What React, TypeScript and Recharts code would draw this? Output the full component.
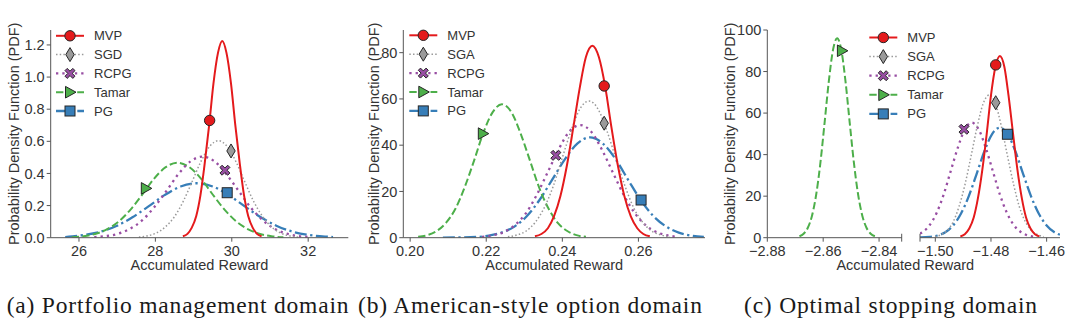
import React from 'react'
import { ComposedChart, Line, Scatter, XAxis, YAxis, ReferenceLine } from 'recharts'

type Pt = [number, number]

// (a) Portfolio management domain
const aMVP: Pt[] = [[28.72, 0.009], [28.84, 0.024], [28.95, 0.061], [29.07, 0.135], [29.18, 0.265], [29.29, 0.46], [29.41, 0.706], [29.52, 0.959], [29.64, 1.152], [29.75, 1.225], [29.86, 1.152], [29.98, 0.959], [30.09, 0.706], [30.21, 0.46], [30.32, 0.265], [30.43, 0.135], [30.55, 0.061], [30.66, 0.024], [30.78, 0.009]]
const aSGD: Pt[] = [[27.57, 0.004], [27.8, 0.012], [28.03, 0.03], [28.26, 0.067], [28.5, 0.131], [28.73, 0.227], [28.96, 0.348], [29.19, 0.473], [29.42, 0.568], [29.65, 0.604], [29.88, 0.568], [30.11, 0.473], [30.34, 0.348], [30.57, 0.227], [30.81, 0.131], [31.04, 0.067], [31.27, 0.03], [31.5, 0.012], [31.73, 0.004]]
const aRCPG: Pt[] = [[26.4, 0.004], [26.71, 0.01], [27.03, 0.025], [27.34, 0.056], [27.66, 0.109], [27.97, 0.19], [28.29, 0.291], [28.6, 0.395], [28.92, 0.475], [29.23, 0.505], [29.55, 0.475], [29.86, 0.395], [30.18, 0.291], [30.49, 0.19], [30.81, 0.109], [31.12, 0.056], [31.44, 0.025], [31.75, 0.01], [32.07, 0.004]]
const aTamar: Pt[] = [[25.81, 0.003], [26.12, 0.009], [26.42, 0.023], [26.73, 0.052], [27.04, 0.101], [27.35, 0.175], [27.66, 0.269], [27.96, 0.366], [28.27, 0.439], [28.58, 0.467], [28.89, 0.439], [29.2, 0.366], [29.5, 0.269], [29.81, 0.175], [30.12, 0.101], [30.43, 0.052], [30.74, 0.023], [31.04, 0.009], [31.35, 0.003]]
const aPG: Pt[] = [[25.64, 0.004], [26.14, 0.017], [26.56, 0.037], [26.98, 0.073], [27.4, 0.127], [27.82, 0.195], [28.24, 0.265], [28.66, 0.319], [29.08, 0.339], [29.5, 0.319], [29.92, 0.265], [30.34, 0.195], [30.76, 0.127], [31.18, 0.073], [31.6, 0.037], [32.02, 0.017], [32.44, 0.007], [32.65, 0.004]]
const aMarkers: Pt[] = [[29.42, 0.73], [29.98, 0.54], [29.82, 0.42], [27.75, 0.307], [29.88, 0.28]]

// (b) American-style option domain
const bMVP: Pt[] = [[0.2328, 0.6], [0.2345, 1.6], [0.2362, 4.1], [0.2378, 9.2], [0.2395, 18.0], [0.2412, 31.2], [0.2429, 47.8], [0.2446, 65.0], [0.2462, 78.1], [0.2479, 83.0], [0.2496, 78.1], [0.2513, 65.0], [0.2529, 47.8], [0.2546, 31.2], [0.2563, 18.0], [0.258, 9.2], [0.2597, 4.1], [0.2613, 1.6], [0.263, 0.6]]
const bSGA: Pt[] = [[0.2257, 0.4], [0.2281, 1.2], [0.2305, 2.9], [0.2328, 6.5], [0.2352, 12.8], [0.2376, 22.2], [0.2399, 34.1], [0.2423, 46.3], [0.2446, 55.6], [0.247, 59.1], [0.2494, 55.6], [0.2517, 46.3], [0.2541, 34.1], [0.2565, 22.2], [0.2588, 12.8], [0.2612, 6.5], [0.2635, 2.9], [0.2659, 1.2], [0.2683, 0.4]]
const bRCPG: Pt[] = [[0.2189, 0.3], [0.2217, 1.0], [0.2246, 2.4], [0.2275, 5.4], [0.2304, 10.5], [0.2332, 18.3], [0.2361, 28.1], [0.239, 38.1], [0.2418, 45.8], [0.2447, 48.7], [0.2476, 45.8], [0.2504, 38.1], [0.2533, 28.1], [0.2562, 18.3], [0.2591, 10.5], [0.2619, 5.4], [0.2648, 2.4], [0.2677, 1.0], [0.2705, 0.3]]
const bTamar: Pt[] = [[0.2021, 0.4], [0.2045, 1.1], [0.207, 2.9], [0.2094, 6.4], [0.2119, 12.5], [0.2143, 21.7], [0.2168, 33.3], [0.2192, 45.2], [0.2217, 54.3], [0.2241, 57.7], [0.2266, 54.3], [0.229, 45.2], [0.2315, 33.3], [0.2339, 21.7], [0.2364, 12.5], [0.2388, 6.4], [0.2413, 2.9], [0.2437, 1.1], [0.2462, 0.4]]
const bPG: Pt[] = [[0.2086, 0.05], [0.213, 0.1], [0.2174, 0.3], [0.2207, 0.9], [0.224, 2.2], [0.2274, 4.8], [0.2307, 9.4], [0.234, 16.3], [0.2373, 25.0], [0.2407, 34.0], [0.244, 40.8], [0.2473, 43.4], [0.2506, 40.8], [0.254, 34.0], [0.2573, 25.0], [0.2606, 16.3], [0.2639, 9.4], [0.2673, 4.8], [0.2706, 2.2], [0.2739, 0.9], [0.2772, 0.3]]
const bMarkers: Pt[] = [[0.251, 65.6], [0.251, 49.5], [0.2383, 35.6], [0.2191, 45.0], [0.2607, 16.3]]

// (c) Optimal stopping domain, broken x axis
const cTamar: Pt[] = [[-2.8685, 0.7], [-2.867, 1.9], [-2.8655, 4.8], [-2.864, 10.6], [-2.8625, 20.8], [-2.861, 36.0], [-2.8595, 55.3], [-2.858, 75.1], [-2.8565, 90.3], [-2.855, 96.0], [-2.8535, 90.3], [-2.852, 75.1], [-2.8505, 55.3], [-2.849, 36.0], [-2.8475, 20.8], [-2.846, 10.6], [-2.8445, 4.8], [-2.843, 1.9], [-2.8415, 0.7]]
const cMVP: Pt[] = [[-1.491, 0.6], [-1.4894, 1.7], [-1.4878, 4.4], [-1.4862, 9.7], [-1.4847, 18.9], [-1.4831, 32.8], [-1.4815, 50.4], [-1.48, 68.5], [-1.4784, 82.3], [-1.4768, 87.5], [-1.4752, 82.3], [-1.4737, 68.5], [-1.4721, 50.4], [-1.4705, 32.8], [-1.4689, 18.9], [-1.4674, 9.7], [-1.4658, 4.4], [-1.4642, 1.7], [-1.4626, 0.6]]
const cSGA: Pt[] = [[-1.5001, 0.5], [-1.498, 1.4], [-1.4958, 3.4], [-1.4936, 7.6], [-1.4915, 14.9], [-1.4893, 25.8], [-1.4871, 39.6], [-1.4849, 53.8], [-1.4828, 64.6], [-1.4806, 68.7], [-1.4784, 64.6], [-1.4763, 53.8], [-1.4741, 39.6], [-1.4719, 25.8], [-1.4698, 14.9], [-1.4676, 7.6], [-1.4654, 3.4], [-1.4632, 1.4], [-1.4611, 0.5]]
const cRCPG: Pt[] = [[-1.5055, 2.0], [-1.5045, 2.75], [-1.502, 6.1], [-1.4995, 12.0], [-1.497, 20.8], [-1.4945, 31.9], [-1.4919, 43.4], [-1.4894, 52.1], [-1.4869, 55.4], [-1.4844, 52.1], [-1.4819, 43.4], [-1.4793, 31.9], [-1.4768, 20.8], [-1.4743, 12.0], [-1.4718, 6.1], [-1.4693, 2.75], [-1.4667, 1.1], [-1.4642, 0.4]]
const cPG: Pt[] = [[-1.5055, 0.1], [-1.502, 0.4], [-1.4992, 1.05], [-1.4964, 2.6], [-1.4936, 5.9], [-1.4908, 11.5], [-1.488, 19.9], [-1.4852, 30.5], [-1.4824, 41.5], [-1.4796, 49.9], [-1.4768, 53.0], [-1.474, 49.9], [-1.4712, 41.5], [-1.4684, 30.5], [-1.4656, 19.9], [-1.4628, 11.5], [-1.46, 5.9], [-1.4572, 2.6], [-1.4552, 1.4]]
const cMarkers: Pt[] = [[-1.4783, 83.2], [-1.4783, 65.0], [-1.4897, 52.2], [-2.8533, 90.0], [-1.4741, 49.8]]

const labelsA = ['MVP', 'SGD', 'RCPG', 'Tamar', 'PG']
const labelsBC = ['MVP', 'SGA', 'RCPG', 'Tamar', 'PG']

const INK = '#333'
const AXIS = '#555'
const EDGE = '#262626'

// one entry per method, same order as the legend
const STYLES = [
  { kind: 'circle', color: '#e41a1c', width: 2, dash: undefined as string | undefined },
  { kind: 'diamond', color: '#9a9a9a', width: 1.5, dash: '1.5 2.2' },
  { kind: 'x', color: '#984ea3', width: 2.3, dash: '2.3 4' },
  { kind: 'tri', color: '#4daf4a', width: 2, dash: '7.4 3.2' },
  { kind: 'square', color: '#377eb8', width: 2.3, dash: '12 3.5 2.3 3.5' },
]

const pts = (arr: Pt[]) => arr.map(([x, y]) => ({ x, y }))
const minus = (v: number, d: number) => v.toFixed(d).replace('-', '\u2212')

function Marker({ kind, cx, cy }: { kind: string; cx: number; cy: number }) {
  if (kind === 'circle') return <circle cx={cx} cy={cy} r={5.2} fill="#e41a1c" stroke={EDGE} strokeWidth={1} />
  if (kind === 'diamond')
    return <polygon points={`${cx},${cy - 7} ${cx + 4.2},${cy} ${cx},${cy + 7} ${cx - 4.2},${cy}`} fill="#9a9a9a" stroke={EDGE} strokeWidth={1} />
  if (kind === 'tri')
    return <polygon points={`${cx + 6},${cy} ${cx - 4.5},${cy - 5.8} ${cx - 4.5},${cy + 5.8}`} fill="#4daf4a" stroke={EDGE} strokeWidth={1} />
  if (kind === 'square') return <rect x={cx - 5} y={cy - 5} width={10} height={10} fill="#377eb8" stroke={EDGE} strokeWidth={1} />
  const L = 5, t = 2.2
  const p = [[-L, -L + t], [-L + t, -L], [0, -t], [L - t, -L], [L, -L + t], [t, 0], [L, L - t], [L - t, L], [0, t], [-L + t, L], [-L, L - t], [-t, 0]]
  return <polygon points={p.map(([a, b]) => `${cx + a},${cy + b}`).join(' ')} fill="#984ea3" stroke={EDGE} strokeWidth={1} />
}

interface Series { idx: number; data: Pt[] }

interface PanelProps {
  left: number
  width: number
  margin: { top: number; right: number; bottom: number; left: number }
  xDomain: [number, number]
  xTicks: number[]
  xFmt: (v: number) => string
  yDomain: [number, number]
  yTicks: number[]
  yFmt: (v: number) => string
  yWidth: number
  hideY?: boolean
  series: Series[]
  markers: Series[]
  breaks?: number[]
}

function Panel(p: PanelProps) {
  const lines = [...p.series].sort((a, b) => b.idx - a.idx)
  return (
    <div style={{ position: 'absolute', left: p.left, top: 0 }}>
      <ComposedChart width={p.width} height={290} margin={p.margin}>
        <XAxis type="number" dataKey="x" domain={p.xDomain} ticks={p.xTicks} tickFormatter={p.xFmt} allowDataOverflow interval={0}
          height={45} tickSize={4} tickMargin={4} tick={{ fill: INK, fontSize: 14.5 }}
          axisLine={{ stroke: AXIS }} tickLine={{ stroke: AXIS }} />
        <YAxis type="number" domain={p.yDomain} ticks={p.yTicks} tickFormatter={p.yFmt} allowDataOverflow hide={p.hideY}
          width={p.yWidth} tickSize={4} tick={{ fill: INK, fontSize: 14.5 }}
          axisLine={{ stroke: AXIS }} tickLine={{ stroke: AXIS }} />
        {lines.map((s) => {
          const st = STYLES[s.idx]
          return (
            <Line key={'l' + s.idx} data={pts(s.data)} dataKey="y" type="monotone" stroke={st.color} strokeWidth={st.width}
              strokeDasharray={st.dash} dot={false} activeDot={false} isAnimationActive={false} />
          )
        })}
        {p.markers.map((s) => (
          <Scatter key={'m' + s.idx} data={pts(s.data)} dataKey="y" isAnimationActive={false}
            shape={(sp: any) => <Marker kind={STYLES[s.idx].kind} cx={sp.cx} cy={sp.cy} />} />
        ))}
        {(p.breaks || []).map((b) => (
          <ReferenceLine key={'b' + b} segment={[{ x: b, y: -p.yDomain[1] * 0.019 }, { x: b, y: p.yDomain[1] * 0.019 }]}
            stroke={AXIS} ifOverflow="visible" />
        ))}
      </ComposedChart>
    </div>
  )
}

function Legend({ x, y, dy, labels }: { x: number; y: number; dy: number; labels: string[] }) {
  return (
    <g>
      {labels.map((lab, i) => {
        const st = STYLES[i]
        const yy = y + i * dy
        return (
          <g key={lab}>
            <line x1={x} x2={x + 28} y1={yy} y2={yy} stroke={st.color} strokeWidth={st.width} strokeDasharray={st.dash} />
            <Marker kind={st.kind} cx={x + 14} cy={yy} />
            <text x={x + 38} y={yy} fontSize={13} fill={INK} dominantBaseline="central">{lab}</text>
          </g>
        )
      })}
    </g>
  )
}

const yLabel = 'Probability Density Function (PDF)'
const xLabel = 'Accumulated Reward'
const captions = [
  { x: 6.7, text: '(a) Portfolio management domain' },
  { x: 358, text: '(b) American-style option domain' },
  { x: 744, text: '(c) Optimal stopping domain' },
]

export default function App() {
  const one = (v: number) => v.toFixed(1)
  const int = (v: number) => String(v)
  return (
    <div style={{ position: 'absolute', left: 0, top: 0, width: 1080, height: 325, background: '#fff', overflow: 'hidden', fontFamily: '"Liberation Sans", Arial, sans-serif' }}>
      <Panel left={0} width={360} margin={{ top: 30, right: 11.7, bottom: 7.3, left: 0 }}
        xDomain={[25.26, 33.05]} xTicks={[26, 28, 30, 32]} xFmt={int}
        yDomain={[0, 1.293]} yTicks={[0, 0.2, 0.4, 0.6, 0.8, 1.0, 1.2]} yFmt={one} yWidth={50.7}
        series={[aMVP, aSGD, aRCPG, aTamar, aPG].map((d, idx) => ({ idx, data: d }))}
        markers={aMarkers.map((m, idx) => ({ idx, data: [m] }))} />
      <Panel left={360} width={360} margin={{ top: 30, right: 15, bottom: 7.3, left: 0 }}
        xDomain={[0.1982, 0.2775]} xTicks={[0.2, 0.22, 0.24, 0.26]} xFmt={(v) => v.toFixed(2)}
        yDomain={[0, 89.8]} yTicks={[0, 20, 40, 60, 80]} yFmt={int} yWidth={43.3}
        series={[bMVP, bSGA, bRCPG, bTamar, bPG].map((d, idx) => ({ idx, data: d }))}
        markers={bMarkers.map((m, idx) => ({ idx, data: [m] }))} />
      <Panel left={720} width={190} margin={{ top: 30, right: 8.3, bottom: 7.3, left: 0 }}
        xDomain={[-2.88, -2.8319]} xTicks={[-2.88, -2.86, -2.84]} xFmt={(v) => minus(v, 2)}
        yDomain={[0, 100]} yTicks={[0, 20, 40, 60, 80, 100]} yFmt={int} yWidth={47.3}
        series={[{ idx: 3, data: cTamar }]}
        markers={[{ idx: 3, data: [cMarkers[3]] }]} breaks={[-2.8319]} />
      <Panel left={910} width={170} margin={{ top: 30, right: 20, bottom: 7.3, left: 10 }}
        xDomain={[-1.5055, -1.4552]} xTicks={[-1.5, -1.48, -1.46]} xFmt={(v) => minus(v, 2)}
        yDomain={[0, 100]} yTicks={[0, 20, 40, 60, 80, 100]} yFmt={int} yWidth={0} hideY
        series={[cMVP, cSGA, cRCPG, null, cPG].map((d, idx) => ({ idx, data: d as Pt[] })).filter((s) => s.data)}
        markers={cMarkers.map((m, idx) => ({ idx, data: [m] })).filter((s) => s.idx !== 3)} breaks={[-1.5055]} />
      <svg width={1080} height={325} style={{ position: 'absolute', left: 0, top: 0, pointerEvents: 'none' }}>
        <Legend x={56} y={35.8} dy={18.8} labels={labelsA} />
        <Legend x={409.3} y={35.3} dy={18.9} labels={labelsBC} />
        <Legend x={869.3} y={37.5} dy={19.1} labels={labelsBC} />
        {[14.3, 374, 730].map((x) => (
          <text key={x} x={x} y={133.8} fontSize={14.5} fill={INK} textAnchor="middle" dominantBaseline="central" transform={`rotate(-90 ${x} 133.8)`}>{yLabel}</text>
        ))}
        {[199.5, 554.2, 905.3].map((x) => (
          <text key={x} x={x} y={265.3} fontSize={14.5} fill={INK} textAnchor="middle" dominantBaseline="central">{xLabel}</text>
        ))}
        {captions.map((c) => (
          <text key={c.text} x={c.x} y={312.7} fontSize={23.5} letterSpacing={0.8} fill="#1a1a1a" fontFamily='"Liberation Serif", "Times New Roman", serif'>{c.text}</text>
        ))}
      </svg>
    </div>
  )
}
